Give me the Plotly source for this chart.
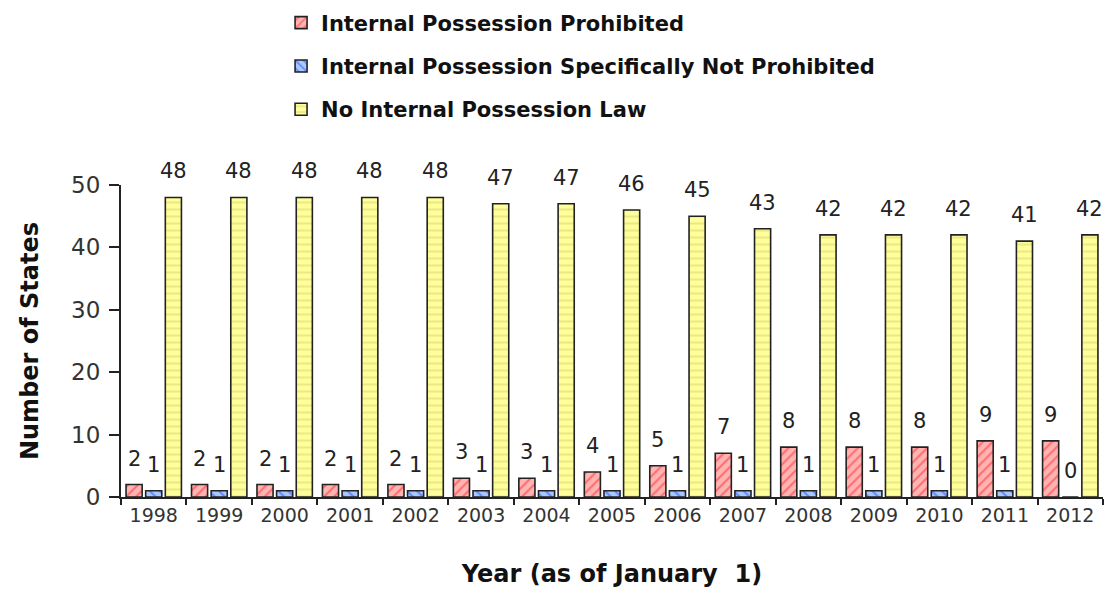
import plotly.graph_objects as go

years = ["1998", "1999", "2000", "2001", "2002", "2003", "2004", "2005",
         "2006", "2007", "2008", "2009", "2010", "2011", "2012"]
prohibited = [2, 2, 2, 2, 2, 3, 3, 4, 5, 7, 8, 8, 8, 9, 9]
not_prohibited = [1, 1, 1, 1, 1, 1, 1, 1, 1, 1, 1, 1, 1, 1, 0]
no_law = [48, 48, 48, 48, 48, 47, 47, 46, 45, 43, 42, 42, 42, 41, 42]

FONT = "DejaVu Sans, Verdana, sans-serif"

series = [
    ("Internal Possession Prohibited", prohibited, "/", "#FFB3B3", "#FF2A2A"),
    ("Internal Possession Specifically Not Prohibited", not_prohibited, "\\", "#A8C8FF", "#1F4FFF"),
    ("No Internal Possession Law", no_law, "-", "#FFFF99", "#D9D27A"),
]

BARGAP = 0.1
plot_w = 1106 - 121 - 3
slot = plot_w / len(years) * (1 - BARGAP) / len(series)

fig = go.Figure()
for i, (name, vals, shape, bg, fg) in enumerate(series):
    fig.add_trace(go.Bar(
        x=years, y=vals, name="<b>" + name + "</b>", legendgroup=str(i),
        marker=dict(
            color=bg,
            line=dict(color="#222222", width=1.6),
            pattern=dict(shape=shape, bgcolor=bg, fgcolor=fg, size=7, solidity=0.3),
        ),
        hovertemplate="%{x}: %{y}<extra></extra>",
    ))
    # value labels sit a bit higher above the bars than plotly's outside text
    # (on a category axis annotations take the category index)
    for j, v in enumerate(vals):
        fig.add_annotation(
            x=j, y=v, text=str(v), showarrow=False,
            xshift=(i - 1) * slot, yshift=12, yanchor="bottom",
            font=dict(size=21, color="#222222", family=FONT),
        )

fig.update_layout(
    width=1106, height=598,
    barmode="group", bargap=BARGAP, bargroupgap=0.18,
    plot_bgcolor="white", paper_bgcolor="white",
    margin=dict(l=121, r=3, t=185, b=101),
    font=dict(family=FONT, color="#111111"),
    showlegend=True,
    legend=dict(
        x=0.163, y=1.585, xanchor="left", yanchor="top",
        font=dict(size=21, color="#111111", family=FONT),
        tracegroupgap=13, itemwidth=30, bgcolor="rgba(0,0,0,0)",
    ),
)

fig.update_yaxes(
    range=[0, 50], autorange=False, dtick=10, showgrid=False, zeroline=False, automargin=False,
    showline=True, linecolor="#222222", linewidth=2,
    ticks="outside", ticklen=10, tickwidth=2, tickcolor="#222222",
    ticklabelstandoff=4,
    tickfont=dict(size=23, color="#333333"),
    title=dict(text="<b>Number of States</b>", font=dict(size=24, color="#111111"), standoff=26),
)
fig.update_xaxes(
    type="category", categoryorder="array", categoryarray=years,
    range=[-0.5, len(years) - 0.5], autorange=False, automargin=False,
    showline=True, linecolor="#222222", linewidth=2,
    ticks="outside", ticklen=6, tickwidth=2, tickcolor="#222222",
    tickson="boundaries",
    tickfont=dict(size=19, color="#333333"),
    title=dict(text="<b>Year (as of January  1)</b>", font=dict(size=24, color="#111111"), standoff=40),
)

fig.write_html("out.html", config={"displayModeBar": False},
               post_script="document.body.style.margin='0';")
